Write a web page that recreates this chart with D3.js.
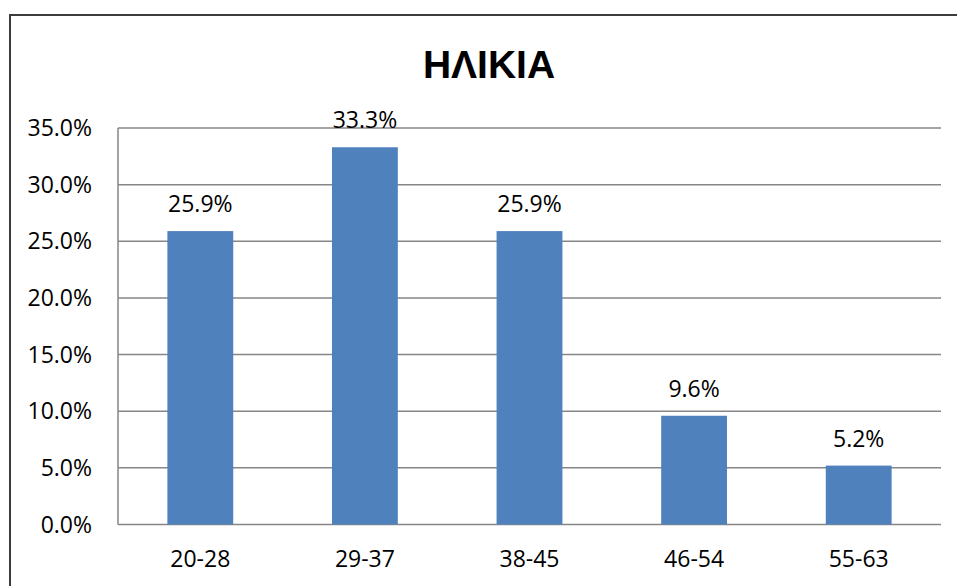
<!DOCTYPE html>
<html>
<head>
<meta charset="utf-8">
<script src="https://cdn.jsdelivr.net/npm/d3@7"></script>
<style>
  html, body { margin: 0; padding: 0; background: #fff; overflow: hidden; }
  svg { display: block; }
</style>
</head>
<body>
<div id="container"></div>
<script>
// ηλικιακές ομάδες και ποσοστά
const title = "ΗΛΙΚΙΑ";
const categories = ["20-28", "29-37", "38-45", "46-54", "55-63"];
const values = [25.9, 33.3, 25.9, 9.6, 5.2];
const yTicks = [0, 5, 10, 15, 20, 25, 30, 35];

const width = 957;
const height = 586;
const plot = { left: 118, top: 128, right: 941, bottom: 524.5 };
const font = "'Open Sans', sans-serif";

const svg = d3.select("#container").append("svg")
    .attr("width", width)
    .attr("height", height);

// πλαίσιο γραφήματος (συνεχίζει έξω από την εικόνα)
svg.append("rect")
    .attr("x", 10)
    .attr("y", 15)
    .attr("width", width + 20)
    .attr("height", height + 20)
    .attr("fill", "none")
    .attr("stroke", "#3c3c3c")
    .attr("stroke-width", 2);

const x = d3.scaleBand()
    .domain(categories)
    .range([plot.left, plot.right])
    .paddingInner(0.6)
    .paddingOuter(0.3);

const y = d3.scaleLinear()
    .domain([0, 35])
    .range([plot.bottom, plot.top]);

// γραμμές πλέγματος
svg.append("g")
    .selectAll("line")
    .data(yTicks)
    .join("line")
    .attr("x1", plot.left)
    .attr("x2", plot.right)
    .attr("y1", d => y(d))
    .attr("y2", d => y(d))
    .attr("stroke", "#868686")
    .attr("stroke-width", 1.5);

// ετικέτες άξονα y
svg.append("g")
    .selectAll("text")
    .data(yTicks)
    .join("text")
    .attr("x", 92)
    .attr("y", d => y(d))
    .attr("dy", "0.35em")
    .attr("text-anchor", "end")
    .style("font-family", font)
    .style("font-size", "23px")
    .attr("fill", "#000")
    .text(d => d.toFixed(1) + "%");

// ράβδοι
svg.append("g")
    .selectAll("rect")
    .data(values)
    .join("rect")
    .attr("x", (d, i) => x(categories[i]))
    .attr("y", d => y(d))
    .attr("width", x.bandwidth())
    .attr("height", d => y(0) - y(d))
    .attr("fill", "#4f81bd");

// άξονας y (αριστερή γραμμή)
svg.append("line")
    .attr("x1", plot.left)
    .attr("x2", plot.left)
    .attr("y1", plot.top)
    .attr("y2", plot.bottom)
    .attr("stroke", "#868686")
    .attr("stroke-width", 1.5);

// ετικέτες τιμών
svg.append("g")
    .selectAll("text")
    .data(values)
    .join("text")
    .attr("x", (d, i) => x(categories[i]) + x.bandwidth() / 2)
    .attr("y", d => y(d) - 19)
    .attr("text-anchor", "middle")
    .style("font-family", font)
    .style("font-size", "23px")
    .attr("fill", "#000")
    .text(d => d.toFixed(1) + "%");

// ετικέτες κατηγοριών
svg.append("g")
    .selectAll("text")
    .data(categories)
    .join("text")
    .attr("x", d => x(d) + x.bandwidth() / 2)
    .attr("y", 567)
    .attr("text-anchor", "middle")
    .style("font-family", font)
    .style("font-size", "23px")
    .attr("fill", "#000")
    .text(d => d);

// τίτλος
svg.append("text")
    .attr("x", 489)
    .attr("y", 78)
    .attr("text-anchor", "middle")
    .style("font-family", "'Liberation Sans', Arial, sans-serif")
    .style("font-weight", "bold")
    .style("font-size", "39px")
    .attr("fill", "#000")
    .text(title);
</script>
</body>
</html>
